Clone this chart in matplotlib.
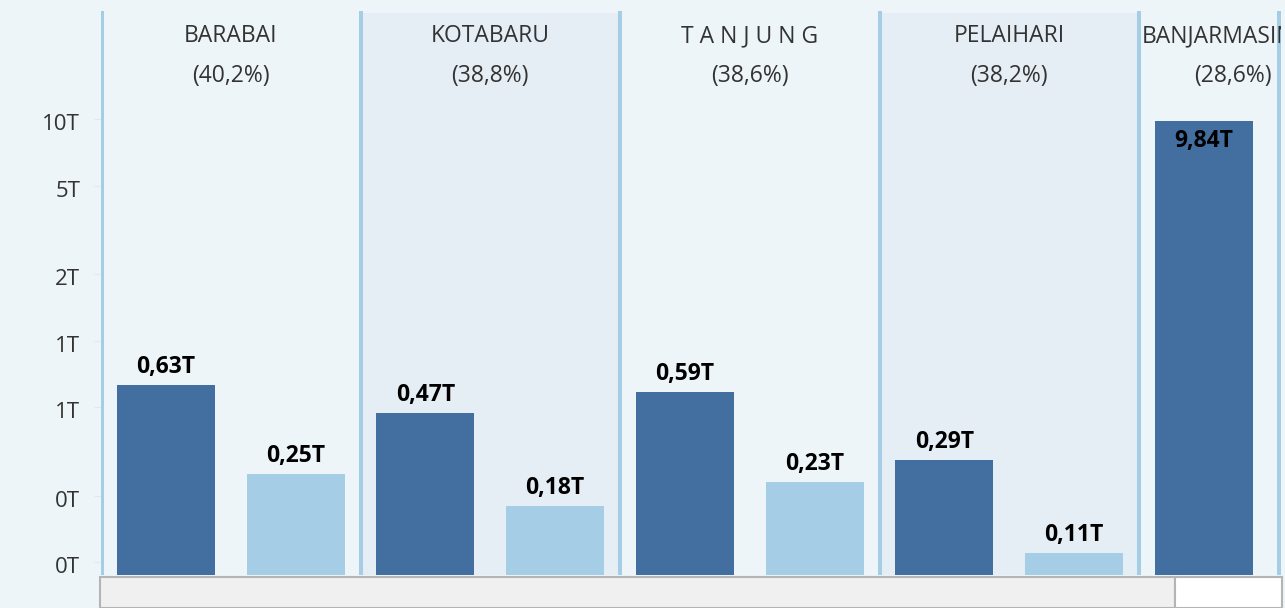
import numpy as np
import matplotlib.pyplot as plt
import matplotlib.transforms as mtransforms
from matplotlib.patches import Rectangle

# data
regions = ["BARABAI", "KOTABARU", "T A N J U N G", "PELAIHARI", "BANJARMASIN"]
shares = ["(40,2%)", "(38,8%)", "(38,6%)", "(38,2%)", "(28,6%)"]
dark_vals = [0.63, 0.47, 0.59, 0.29, 9.84]
light_vals = [0.25, 0.18, 0.23, 0.11, np.nan]  # last one is off-screen
dark_labels = ["0,63T", "0,47T", "0,59T", "0,29T", "9,84T"]
light_labels = ["0,25T", "0,18T", "0,23T", "0,11T", ""]
tick_vals = [10, 5, 2, 1, 0.5, 0.2, 0.1]
tick_labels = ["10T", "5T", "2T", "1T", "1T", "0T", "0T"]

W, H = 1285, 608
bg = "#eef5f9"
shade = "#e6eef5"
sep = "#a6cde6"
dark = "#426fa0"
light = "#a6cde6"
txt = "#333333"

plt.rcParams['font.family'] = ['Open Sans', 'DejaVu Sans']

fig = plt.figure(figsize=(W / 100, H / 100), dpi=100, facecolor=bg)
ax_l, ax_r, ax_t, ax_b = 101, 1281, 11, 575
ax = fig.add_axes([ax_l / W, (H - ax_b) / H, (ax_r - ax_l) / W, (ax_b - ax_t) / H])
ax.set_facecolor(bg)

n = len(regions)
pw = 259.5  # panel width in px
xmax = (ax_r - ax_l) / pw
ax.set_xlim(0, xmax)
ax.set_yscale('log')
# log scale fitted to the bar tops: y_px = 340.8 - 221.4 * log10(v)
ax.set_ylim(10 ** ((340.8 - ax_b) / 221.4), 10 ** ((340.8 - ax_t) / 221.4))

# shaded alternate panels
for i in range(n):
    if i % 2 == 1:
        ax.axvspan(i, i + 1, ymin=0, ymax=0.9965, color=shade, lw=0, zorder=0)

# separators
for xs in [0.004] + list(range(1, n)) + [xmax - 0.008]:
    ax.axvline(xs, color=sep, lw=2.9, zorder=3)

x = np.arange(n)
bw = 98 / pw
ax.bar(x + 0.25, dark_vals, width=bw, color=dark, zorder=2)
ax.bar(x + 0.75, light_vals, width=bw, color=light, zorder=2)

lab_kw = dict(textcoords='offset pixels', ha='center', va='baseline',
              fontsize=16.5, fontweight='bold', color='black', zorder=4)
for i in range(n):
    off = -26 if dark_vals[i] > 5 else 12
    ax.annotate(dark_labels[i], (i + 0.25, dark_vals[i]), xytext=(0, off), **lab_kw)
    if not np.isnan(light_vals[i]):
        ax.annotate(light_labels[i], (i + 0.75, light_vals[i]), xytext=(0, 12), **lab_kw)

# panel headers
tr = ax.get_xaxis_transform()
hy1 = (ax_b - 36) / (ax_b - ax_t)
hy2 = (ax_b - 76) / (ax_b - ax_t)
head_kw = dict(transform=tr, va='center', fontsize=16.5, color=txt, zorder=4)
for i in range(n - 1):
    ax.text(i + 0.5, hy1, regions[i], ha='center', **head_kw)
    ax.text(i + 0.5, hy2, shares[i], ha='center', **head_kw)
# last panel is cut off at the right edge, as in the source view
ax.text(4.01, hy1, regions[4], ha='left', clip_on=True, **head_kw)
ax.text(4.362, hy2, shares[4], ha='center', **head_kw)

ax.set_yticks(tick_vals)
ax.set_yticklabels(tick_labels)
ax.yaxis.set_minor_locator(plt.NullLocator())
ax.tick_params(axis='y', length=5, color='#e3e9ee', pad=10, labelsize=16,
               labelcolor=txt)
shift = mtransforms.ScaledTranslation(0, -3 / 100, fig.dpi_scale_trans)
for lab in ax.get_yticklabels():
    lab.set_transform(lab.get_transform() + shift)
ax.set_xticks([])
for s in ax.spines.values():
    s.set_visible(False)

# bottom header strip
fig.patches.append(Rectangle((100 / W, 0), (1175 - 100) / W, 31 / H,
                             transform=fig.transFigure, facecolor='#f0f0f0',
                             edgecolor='#b4b4b4', lw=1.5))
fig.patches.append(Rectangle((1175 / W, 0), (1282 - 1175) / W, 31 / H,
                             transform=fig.transFigure, facecolor='white',
                             edgecolor='#b4b4b4', lw=1.5))

fig.savefig('out.png', dpi=100, facecolor=bg)
